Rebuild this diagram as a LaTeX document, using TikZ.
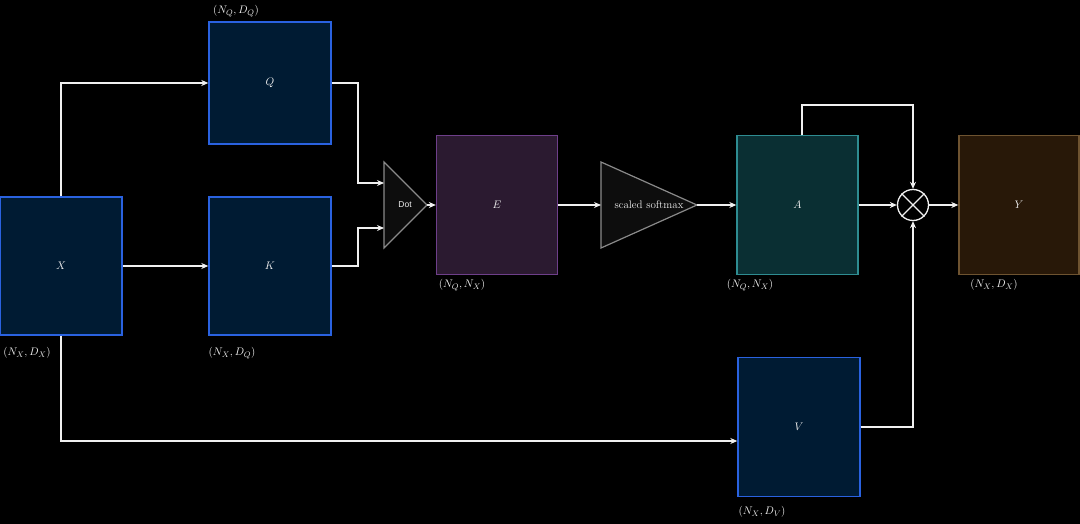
\documentclass[tikz,border=0pt]{standalone}
\usepackage{fontspec}
\newfontfamily\dotfont{Liberation Sans}
\usetikzlibrary{arrows.meta,calc}
\definecolor{bgc}{HTML}{000000}
\definecolor{txt}{HTML}{F0F0F0}
\definecolor{navyfill}{HTML}{001B33}
\definecolor{navyline}{HTML}{2A62E0}
\definecolor{efill}{HTML}{2B1A30}
\definecolor{eline}{HTML}{6E3F8A}
\definecolor{afill}{HTML}{0A2F33}
\definecolor{aline}{HTML}{2E8C91}
\definecolor{yfill}{HTML}{281808}
\definecolor{yline}{HTML}{6E5330}
\definecolor{trifill}{HTML}{0D0D0D}
\definecolor{triline}{HTML}{8A8A8A}
\definecolor{wire}{HTML}{F0F0F0}
\tikzset{
  mat/.style={draw, line width=1.4pt, inner sep=0pt, text=txt, font=\fontsize{11}{13}\selectfont},
  navy/.style={mat, fill=navyfill, draw=navyline},
  dimlabel/.style={text=txt, inner sep=0pt, font=\fontsize{11}{13}\selectfont},
  conn/.style={draw=wire, line width=1.2pt, -{Stealth[length=7pt,width=6pt]}},
  tri/.style={draw=triline, fill=trifill, line width=1.2pt, line join=miter},
}
\begin{document}
\begin{tikzpicture}[x=1pt,y=-1pt]
\fill[bgc] (0,0) rectangle (1080,524);
\useasboundingbox (0,0) rectangle (1080,524);

% boxes
\node[navy, minimum width=122, minimum height=138] (X) at (61,266) {$X$};
\node[navy, minimum width=122, minimum height=122] (Q) at (270,83) {$Q$};
\node[navy, minimum width=122, minimum height=138] (K) at (270,266) {$K$};
\node[mat, fill=efill, draw=eline, minimum width=121, minimum height=139] (E) at (497,205) {$E$};
\node[mat, fill=afill, draw=aline, minimum width=121, minimum height=139] (A) at (797.5,205) {$A$};
\node[mat, fill=yfill, draw=yline, minimum width=120, minimum height=139] (Y) at (1019,205) {$Y$};
\node[navy, minimum width=122, minimum height=139] (V) at (799,427) {$V$};

% dimension labels
\node[dimlabel] (lX) at (27,353) {$(N_X,D_X)$};
\node[dimlabel] (lQ) at (236,11) {$(N_Q,D_Q)$};
\node[dimlabel] (lK) at (232,353) {$(N_X,D_Q)$};
\node[dimlabel] (lE) at (462,285) {$(N_Q,N_X)$};
\node[dimlabel] (lA) at (750,285) {$(N_Q,N_X)$};
\node[dimlabel] (lY) at (994,285) {$(N_X,D_X)$};
\node[dimlabel] (lV) at (762,512) {$(N_X,D_V)$};

% Dot triangle
\draw[tri] (384,162) -- (427,205) -- (384,248) -- cycle;
\coordinate (dotin1) at (384,183);
\coordinate (dotin2) at (384,228);
\coordinate (dotout) at (427,205);
\node[text=txt, inner sep=0pt, font=\dotfont\fontsize{8.5}{10}\selectfont] (dot) at (405,205) {Dot};

% softmax triangle
\draw[tri] (601,162) -- (697,205) -- (601,248) -- cycle;
\coordinate (smin) at (601,205);
\coordinate (smout) at (697,205);
\node[text=txt, inner sep=0pt, font=\fontsize{11}{13}\selectfont] (sm) at (649,205) {scaled softmax};

% multiply circle
\node[draw=wire, fill=black, circle, line width=1.3pt, minimum size=31pt, inner sep=0pt] (mul) at (913,205) {};
\draw[wire, line width=1.3pt] (mul.north west) -- (mul.south east) (mul.north east) -- (mul.south west);

% connectors
\draw[conn] (X.north) |- (Q.west);
\draw[conn] (X.east) -- (K.west);
\draw[conn] (X.south) |- ($(V.west)+(0,14)$);
\draw[conn] (Q.east) -- (358,83) |- (dotin1);
\draw[conn] (K.east) -- (358,266) |- (dotin2);
\draw[conn] (dotout) -- (E.west);
\draw[conn] (E.east) -- (smin);
\draw[conn] (smout) -- (A.west);
\draw[conn] (802,135.5) -- (802,105) -| (mul.north);
\draw[conn] (A.east) -- (mul.west);
\draw[conn] (V.east) -| (mul.south);
\draw[conn] (mul.east) -- (Y.west);
\end{tikzpicture}
\end{document}
